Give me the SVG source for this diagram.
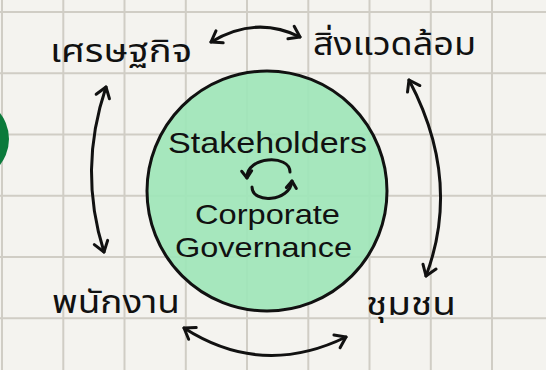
<svg xmlns="http://www.w3.org/2000/svg" width="546" height="370" viewBox="0 0 546 370">
<defs>
<style>
.grid{stroke:#d0cdc5;stroke-width:2}
.conn{fill:none;stroke:#111;stroke-width:3;stroke-linecap:round;marker-start:url(#ah);marker-end:url(#ah)}
.th{font-family:"Noto Sans Thai","Loma","Garuda","Norasi","DejaVu Sans",sans-serif;font-size:32px;fill:#111}
.en{font-family:"Liberation Sans","DejaVu Sans",sans-serif;font-size:30px;fill:#111}
.en2{font-family:"Liberation Sans","DejaVu Sans",sans-serif;font-size:27.5px;fill:#111}
</style>
<marker id="ah" viewBox="-14 -10 18 20" markerWidth="18" markerHeight="20" refX="0" refY="0" orient="auto-start-reverse" markerUnits="userSpaceOnUse">
<path d="M-10,-7 L0,0 L-10,7" fill="none" stroke="#111" stroke-width="3" stroke-linecap="round" stroke-linejoin="round"/>
</marker>
<marker id="ahs" viewBox="-10 -8 14 16" markerWidth="14" markerHeight="16" refX="0" refY="0" orient="auto-start-reverse" markerUnits="userSpaceOnUse">
<path d="M-7,-5 L0,0 L-7,5" fill="none" stroke="#111" stroke-width="3" stroke-linecap="round" stroke-linejoin="round"/>
</marker>
</defs>
<rect width="546" height="370" fill="#f4f3ef"/>
<g id="grid">
<path class="grid" d="M2,0V370M63.3,0V370M124.5,0V370M185.8,0V370M247,0V370M308.3,0V370M369.5,0V370M430.8,0V370M492,0V370M0,12H546M0,73.3H546M0,134.5H546M0,195.8H546M0,257H546M0,318.3H546"/>
</g>
<circle cx="-33" cy="139" r="42" fill="#0b7a3b"/>
<g id="center">
<circle cx="267" cy="191" r="120" fill="#9ee6b8" fill-opacity="0.92" stroke="#111" stroke-width="3"/>
<text class="en" x="168" y="153" textLength="199" lengthAdjust="spacingAndGlyphs">Stakeholders</text>
<path d="M247,178 C246,156 290,154 290,172" fill="none" stroke="#111" stroke-width="3" stroke-linecap="round" marker-start="url(#ahs)"/>
<path d="M252,187 C252,204 290,202 292,181" fill="none" stroke="#111" stroke-width="3" stroke-linecap="round" marker-end="url(#ahs)"/>
<text class="en2" x="195" y="224" textLength="145" lengthAdjust="spacingAndGlyphs">Corporate</text>
<text class="en2" x="175" y="257" textLength="177" lengthAdjust="spacingAndGlyphs">Governance</text>
</g>
<g id="economy"><text class="th" x="50" y="62" textLength="142" lengthAdjust="spacingAndGlyphs">เศรษฐกิจ</text></g>
<g id="environment"><text class="th" x="313" y="55" textLength="163" lengthAdjust="spacingAndGlyphs">สิ่งแวดล้อม</text></g>
<g id="employees"><text class="th" x="52" y="313" textLength="128" lengthAdjust="spacingAndGlyphs">พนักงาน</text></g>
<g id="community"><text class="th" x="366" y="315" textLength="90" lengthAdjust="spacingAndGlyphs">ชุมชน</text></g>
<g id="connectors">
<path class="conn" d="M211,42 Q256,15 300,37"/>
<path class="conn" d="M106,87 Q78,170 104,252"/>
<path class="conn" d="M409,80 Q462,180 426,276"/>
<path class="conn" d="M184,328 Q262,378 346,337"/>
</g>
</svg>
